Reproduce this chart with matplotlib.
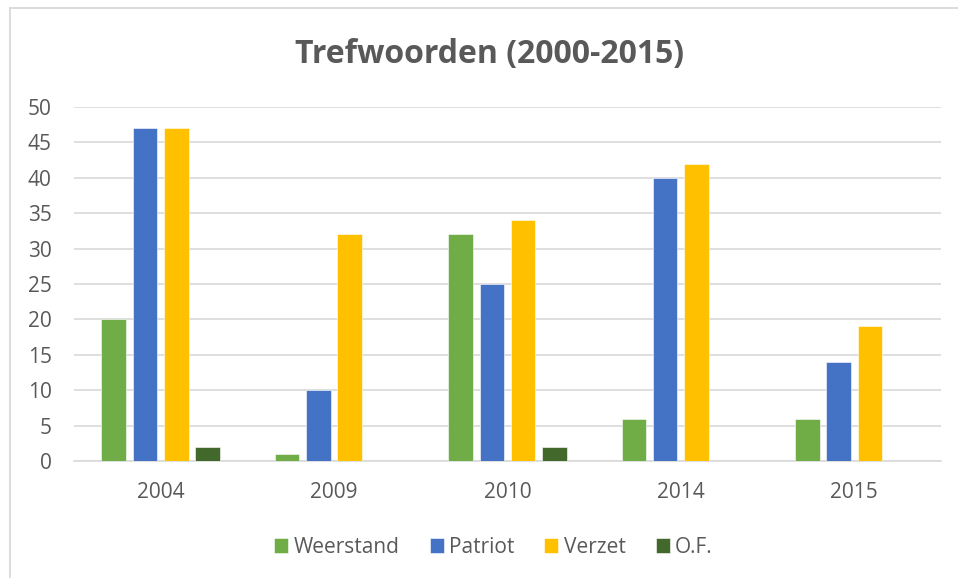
import matplotlib.pyplot as plt
import numpy as np
from matplotlib.lines import Line2D

years = ["2004", "2009", "2010", "2014", "2015"]
series_names = ["Weerstand", "Patriot", "Verzet", "O.F."]
weerstand = [20, 1, 32, 6, 6]
patriot = [47, 10, 25, 40, 14]
verzet = [47, 32, 34, 42, 19]
of_counts = [2, 0, 2, 0, 0]
colors = ["#70ad47", "#4472c4", "#ffc000", "#43682b"]

TEXT = "#595959"
GRID = "#d9d9d9"

plt.rcParams["font.family"] = ["Open Sans", "DejaVu Sans"]

fig = plt.figure(figsize=(9.58, 5.78), dpi=100)
ax = fig.add_axes([0.0772, 0.2024, 0.905, 0.6125])

# light frame of the chart area (left and top edges are inside the image)
frame_x = 10 / 958
frame_y = 1 - 8 / 578
fig.lines.append(Line2D([frame_x, frame_x], [0, frame_y], transform=fig.transFigure,
                        color=GRID, linewidth=1.3))
fig.lines.append(Line2D([frame_x, 1], [frame_y, frame_y], transform=fig.transFigure,
                        color=GRID, linewidth=1.3))

x = np.arange(len(years))
step = 0.1805
width = 0.141
for i, (name, vals) in enumerate(zip(series_names,
                                     [weerstand, patriot, verzet, of_counts])):
    ax.bar(x + (i - 1.5) * step, vals, width, color=colors[i], label=name,
           edgecolor="white", linewidth=0.4, zorder=3)

ax.set_xlim(-0.5, len(years) - 0.5)
ax.set_ylim(0, 50)
ax.set_yticks(range(0, 51, 5))
ax.set_xticks(x)
ax.set_xticklabels(years)
ax.yaxis.grid(True, color=GRID, linewidth=1.2, zorder=0)
for s in ["top", "right", "left"]:
    ax.spines[s].set_visible(False)
ax.spines["bottom"].set_color(GRID)
ax.spines["bottom"].set_linewidth(1.2)
ax.tick_params(axis="both", length=0, labelsize=15, colors=TEXT)
ax.tick_params(axis="x", pad=15)
ax.tick_params(axis="y", pad=16)

fig.text(0.511, 0.905, "Trefwoorden (2000-2015)", ha="center", va="center",
         fontsize=23, fontweight="bold", color=TEXT)

fig.legend(loc="center", bbox_to_anchor=(0.515, 0.053), ncol=4, frameon=False,
           fontsize=15, labelcolor=TEXT, handlelength=0.67, handleheight=0.67,
           handletextpad=0.25, columnspacing=1.45)

fig.savefig("out.png", dpi=100)
